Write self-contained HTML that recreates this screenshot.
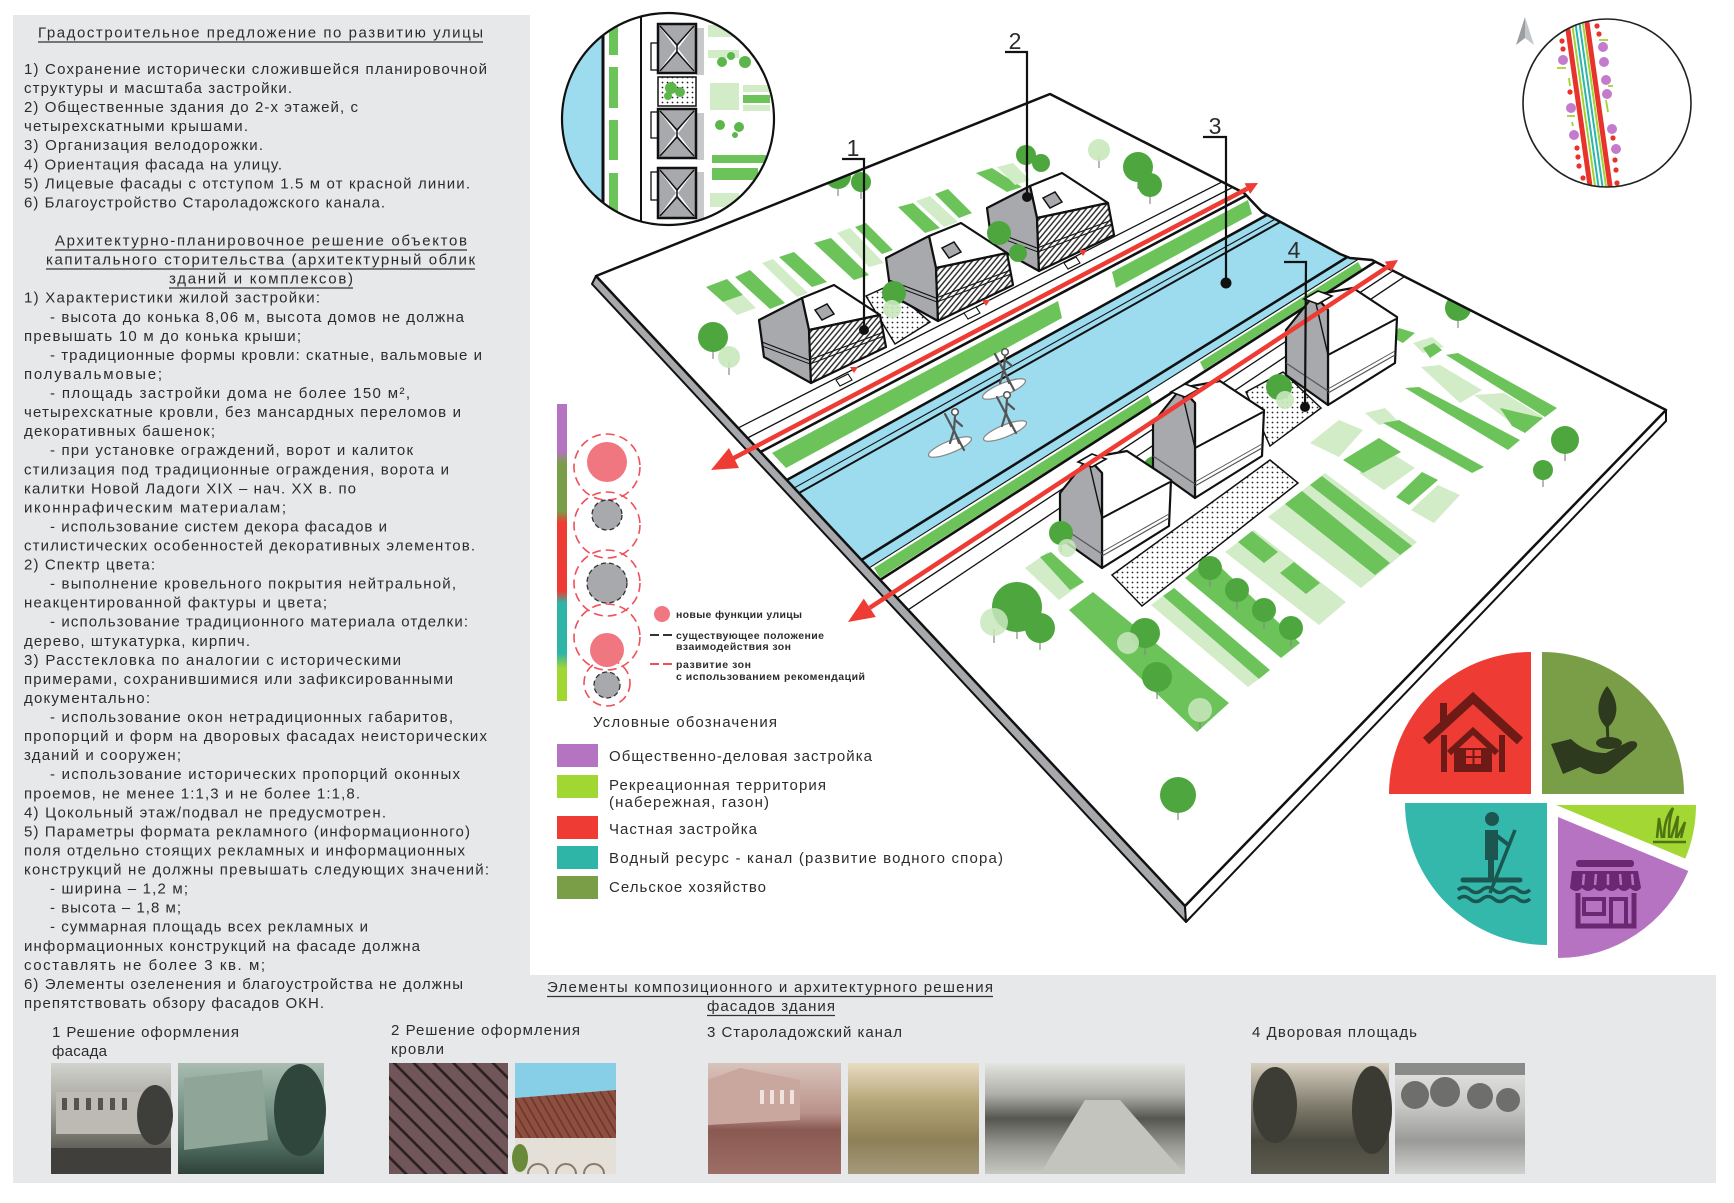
<!DOCTYPE html>
<html><head><meta charset="utf-8">
<style>
html,body{margin:0;padding:0;background:#fff;}
svg{display:block;}
text{font-family:"Liberation Sans","DejaVu Sans",sans-serif;fill:#2c2c2c;}
</style></head><body>
<svg width="1734" height="1203" viewBox="0 0 1734 1203" xmlns="http://www.w3.org/2000/svg">
<defs>
<pattern id="dots" width="5" height="5" patternUnits="userSpaceOnUse"><rect width="5" height="5" fill="#fff"/><circle cx="2.5" cy="2.5" r="0.9" fill="#222"/></pattern>
<pattern id="hatch" width="4.2" height="4.2" patternUnits="userSpaceOnUse" patternTransform="rotate(40)"><rect width="4.2" height="4.2" fill="#fff"/><line x1="1" y1="0" x2="1" y2="4.2" stroke="#222" stroke-width="1.4"/></pattern>
<pattern id="roofp" width="14" height="14" patternUnits="userSpaceOnUse" patternTransform="rotate(-45)"><rect width="14" height="14" fill="#705659"/><line x1="3" y1="0" x2="3" y2="14" stroke="#2a1e20" stroke-width="2.6"/></pattern>
<pattern id="roofp2" width="7" height="7" patternUnits="userSpaceOnUse" patternTransform="rotate(-30)"><rect width="7" height="7" fill="#8d4f40"/><line x1="2" y1="0" x2="2" y2="7" stroke="#6a3528" stroke-width="1.5"/></pattern>
<linearGradient id="bar" x1="0" y1="0" x2="0" y2="1">
<stop offset="0" stop-color="#b574c2"/><stop offset="0.16" stop-color="#b574c2"/><stop offset="0.2" stop-color="#7a9e48"/><stop offset="0.36" stop-color="#7a9e48"/><stop offset="0.40" stop-color="#ee3b33"/><stop offset="0.63" stop-color="#ee3b33"/><stop offset="0.67" stop-color="#2eb5a8"/><stop offset="0.84" stop-color="#2eb5a8"/><stop offset="0.89" stop-color="#a1d733"/><stop offset="1" stop-color="#a1d733"/></linearGradient>
<linearGradient id="g1" x1="0" y1="0" x2="0" y2="1"><stop offset="0" stop-color="#d2d2ce"/><stop offset="0.35" stop-color="#a9a8a1"/><stop offset="0.7" stop-color="#6e6d66"/><stop offset="1" stop-color="#3b3a37"/></linearGradient>
<linearGradient id="g2" x1="0" y1="0" x2="0" y2="1"><stop offset="0" stop-color="#a9bcb2"/><stop offset="0.4" stop-color="#7b978a"/><stop offset="0.75" stop-color="#4f6b5f"/><stop offset="1" stop-color="#2e4239"/></linearGradient>
<linearGradient id="g5" x1="0" y1="0" x2="0" y2="1"><stop offset="0" stop-color="#d8c4bc"/><stop offset="0.45" stop-color="#b9928a"/><stop offset="0.6" stop-color="#8a5a52"/><stop offset="1" stop-color="#9c6e66"/></linearGradient>
<linearGradient id="g6" x1="0" y1="0" x2="0" y2="1"><stop offset="0" stop-color="#e8dcc4"/><stop offset="0.35" stop-color="#b5a676"/><stop offset="0.7" stop-color="#8d8058"/><stop offset="1" stop-color="#a39a7a"/></linearGradient>
<linearGradient id="g7" x1="0" y1="0" x2="0" y2="1"><stop offset="0" stop-color="#e4e4e0"/><stop offset="0.28" stop-color="#b0b0aa"/><stop offset="0.5" stop-color="#55574f"/><stop offset="0.75" stop-color="#9a9a94"/><stop offset="1" stop-color="#c8c8c2"/></linearGradient>
<linearGradient id="g8" x1="0" y1="0" x2="0" y2="1"><stop offset="0" stop-color="#d6cfbf"/><stop offset="0.4" stop-color="#7c786a"/><stop offset="0.7" stop-color="#4a493f"/><stop offset="1" stop-color="#5e5c50"/></linearGradient>
<linearGradient id="g9" x1="0" y1="0" x2="0" y2="1"><stop offset="0" stop-color="#e6e6e4"/><stop offset="0.4" stop-color="#c6c6c4"/><stop offset="0.7" stop-color="#9a9a98"/><stop offset="1" stop-color="#d0d0ce"/></linearGradient>
<clipPath id="slab"><path d="M596,276 L1050,94 L1244,193 L1262,212 L1340,254 L1350,258 L1372,260 L1666,410 L1185,906 Z"/></clipPath>
<clipPath id="c1"><circle cx="668" cy="119" r="106"/></clipPath>
<clipPath id="c2"><circle cx="1607" cy="103" r="84"/></clipPath>
<g id="nh">
<polygon points="43,-22 75,-35 121,-5 50,10" fill="#fff" stroke="#111" stroke-width="2.2" stroke-linejoin="round"/>
<polygon points="56,-10 68,-16 75,-6 63,0" fill="#a7a9ac" stroke="#111" stroke-width="1.5"/>
<polygon points="0,0 43,-22 50,10 52,63 5,37" fill="#a7a9ac" stroke="#111" stroke-width="2.2" stroke-linejoin="round"/>
<polygon points="50,10 121,-5 127,27 52,63" fill="url(#hatch)" stroke="#111" stroke-width="2.2" stroke-linejoin="round"/>
<polyline points="3,22 50,40 125,12" fill="none" stroke="#111" stroke-width="1.2"/>
<polyline points="3,26 51,44 125,16" fill="none" stroke="#111" stroke-width="1"/>
</g>
<g id="sh">
<polygon points="0,0 0,-95 -14,-110 25,-117 69,-88 67,-42" fill="#fff" stroke="#111" stroke-width="2.2" stroke-linejoin="round"/>
<polygon points="-42,-30 -42,-75 -14,-110 0,-95 0,0" fill="#a7a9ac" stroke="#111" stroke-width="2.2" stroke-linejoin="round"/>
<line x1="0" y1="-50" x2="68" y2="-86" stroke="#111" stroke-width="2"/>
<line x1="-14" y1="-110" x2="0" y2="-50" stroke="#111" stroke-width="1.4"/>
<line x1="0" y1="-12" x2="67" y2="-50" stroke="#555" stroke-width="1.2"/>
<line x1="0" y1="-16" x2="67" y2="-54" stroke="#555" stroke-width="1"/>
<line x1="-42" y1="-42" x2="0" y2="-14" stroke="#555" stroke-width="1.2"/>
<polygon points="-24,-106 -10,-114 4,-109 -10,-101" fill="#fff" stroke="#111" stroke-width="1.6"/>
</g>
</defs>

<rect width="1734" height="1203" fill="#fff"/>
<path d="M13,15 H530 V975 H1716 V1183 H13 Z" fill="#e6e8ea"/>

<!-- LEFT TEXT -->
<g font-size="15">
<text x="38" y="37.5" textLength="445" lengthAdjust="spacing">Градостроительное предложение по развитию улицы</text>
<line x1="38" y1="42" x2="483" y2="42" stroke="#333" stroke-width="1.2"/>
<text x="24" y="74" textLength="463" lengthAdjust="spacing">1) Сохранение исторически сложившейся планировочной</text>
<text x="24" y="93.1" textLength="268" lengthAdjust="spacing">структуры и масштаба застройки.</text>
<text x="24" y="112.1" textLength="334" lengthAdjust="spacing">2) Общественные здания до 2-х этажей, с</text>
<text x="24" y="131.2" textLength="224" lengthAdjust="spacing">четырехскатными крышами.</text>
<text x="24" y="150.2" textLength="239" lengthAdjust="spacing">3) Организация велодорожки.</text>
<text x="24" y="169.3" textLength="258" lengthAdjust="spacing">4) Ориентация фасада на улицу.</text>
<text x="24" y="188.4" textLength="446" lengthAdjust="spacing">5) Лицевые фасады с отступом 1.5 м от красной линии.</text>
<text x="24" y="207.4" textLength="361" lengthAdjust="spacing">6) Благоустройство Староладожского канала.</text>
<text x="55" y="245.5" textLength="412" lengthAdjust="spacing">Архитектурно-планировочное решение объектов</text>
<line x1="55" y1="250" x2="467" y2="250" stroke="#333" stroke-width="1.2"/>
<text x="46" y="264.6" textLength="429" lengthAdjust="spacing">капитального сторительства (архитектурный облик</text>
<line x1="46" y1="269" x2="475" y2="269" stroke="#333" stroke-width="1.2"/>
<text x="169" y="283.7" textLength="184" lengthAdjust="spacing">зданий и комплексов)</text>
<line x1="169" y1="288" x2="353" y2="288" stroke="#333" stroke-width="1.2"/>
<text x="24" y="302.7" textLength="296" lengthAdjust="spacing">1) Характеристики жилой застройки:</text>
<text x="50" y="321.8" textLength="414" lengthAdjust="spacing">- высота до конька 8,06 м, высота домов не должна</text>
<text x="24" y="340.8" textLength="277" lengthAdjust="spacing">превышать 10 м до конька крыши;</text>
<text x="50" y="359.8" textLength="432" lengthAdjust="spacing">- традиционные формы кровли: скатные, вальмовые и</text>
<text x="24" y="378.9" textLength="138" lengthAdjust="spacing">полувальмовые;</text>
<text x="50" y="398" textLength="360" lengthAdjust="spacing">- площадь застройки дома не более 150 м²,</text>
<text x="24" y="417.1" textLength="437" lengthAdjust="spacing">четырехскатные кровли, без мансардных переломов и</text>
<text x="24" y="436.1" textLength="191" lengthAdjust="spacing">декоративных башенок;</text>
<text x="50" y="455.2" textLength="363" lengthAdjust="spacing">- при установке ограждений, ворот и калиток</text>
<text x="24" y="474.3" textLength="425" lengthAdjust="spacing">стилизация под традиционные ограждения, ворота и</text>
<text x="24" y="493.3" textLength="332" lengthAdjust="spacing">калитки Новой Ладоги XIX – нач. XX в. по</text>
<text x="24" y="512.4" textLength="262" lengthAdjust="spacing">иконнрафическим материалам;</text>
<text x="50" y="531.4" textLength="337" lengthAdjust="spacing">- использование систем декора фасадов и</text>
<text x="24" y="550.5" textLength="451" lengthAdjust="spacing">стилистических особенностей декоративных элементов.</text>
<text x="24" y="569.6" textLength="131" lengthAdjust="spacing">2) Спектр цвета:</text>
<text x="50" y="588.6" textLength="406" lengthAdjust="spacing">- выполнение кровельного покрытия нейтральной,</text>
<text x="24" y="607.7" textLength="303" lengthAdjust="spacing">неакцентированной фактуры и цвета;</text>
<text x="50" y="626.7" textLength="418" lengthAdjust="spacing">- использование традиционного материала отделки:</text>
<text x="24" y="645.8" textLength="226" lengthAdjust="spacing">дерево, штукатурка, кирпич.</text>
<text x="24" y="664.9" textLength="377" lengthAdjust="spacing">3) Расстекловка  по аналогии с историческими</text>
<text x="24" y="683.9" textLength="429" lengthAdjust="spacing">примерами, сохранившимися или зафиксированными</text>
<text x="24" y="703" textLength="126" lengthAdjust="spacing">документально:</text>
<text x="50" y="722" textLength="403" lengthAdjust="spacing">- использование окон нетрадиционных габаритов,</text>
<text x="24" y="741.1" textLength="463" lengthAdjust="spacing">пропорций и форм на дворовых фасадах неисторических</text>
<text x="24" y="760.2" textLength="157" lengthAdjust="spacing">зданий и сооружен;</text>
<text x="50" y="779.2" textLength="410" lengthAdjust="spacing">- использование исторических пропорций оконных</text>
<text x="24" y="798.3" textLength="336" lengthAdjust="spacing">проемов, не менее 1:1,3 и не более 1:1,8.</text>
<text x="24" y="817.3" textLength="362" lengthAdjust="spacing">4) Цокольный этаж/подвал не предусмотрен.</text>
<text x="24" y="836.4" textLength="446" lengthAdjust="spacing">5) Параметры формата рекламного (информационного)</text>
<text x="24" y="855.5" textLength="441" lengthAdjust="spacing">поля отдельно стоящих рекламных и информационных</text>
<text x="24" y="874.5" textLength="465" lengthAdjust="spacing">конструкций не должны превышать следующих значений:</text>
<text x="50" y="893.6" textLength="138" lengthAdjust="spacing">- ширина – 1,2 м;</text>
<text x="50" y="912.6" textLength="131" lengthAdjust="spacing">- высота – 1,8 м;</text>
<text x="50" y="931.7" textLength="318" lengthAdjust="spacing">- суммарная площадь всех рекламных и</text>
<text x="24" y="950.8" textLength="396" lengthAdjust="spacing">информационных конструкций на фасаде должна</text>
<text x="24" y="969.8" textLength="241" lengthAdjust="spacing">составлять не более 3 кв. м;</text>
<text x="24" y="988.9" textLength="439" lengthAdjust="spacing">6) Элементы озеленения и благоустройства не должны</text>
<text x="24" y="1007.9" textLength="300" lengthAdjust="spacing">препятствовать обзору фасадов ОКН.</text>
</g>

<!-- BOTTOM SECTION -->
<g font-size="15">
<text x="547" y="992" textLength="446" lengthAdjust="spacing">Элементы композиционного и архитектурного решения</text>
<line x1="547" y1="996.5" x2="993" y2="996.5" stroke="#333" stroke-width="1.2"/>
<text x="707" y="1011" textLength="128" lengthAdjust="spacing">фасадов здания</text>
<line x1="707" y1="1015.5" x2="835" y2="1015.5" stroke="#333" stroke-width="1.2"/>
<text x="52" y="1037" textLength="187" lengthAdjust="spacing">1 Решение оформления</text>
<text x="52" y="1056" textLength="55" lengthAdjust="spacing">фасада</text>
<text x="391" y="1035" textLength="189" lengthAdjust="spacing">2 Решение оформления</text>
<text x="391" y="1054" textLength="53" lengthAdjust="spacing">кровли</text>
<text x="707" y="1037" textLength="195" lengthAdjust="spacing">3 Староладожский канал</text>
<text x="1252" y="1037" textLength="165" lengthAdjust="spacing">4 Дворовая площадь</text>
</g>

<!-- PHOTOS -->
<rect x="51" y="1063" width="120" height="111" fill="url(#g1)"/>
<rect x="56" y="1092" width="88" height="42" fill="#bcbab2"/>
<g fill="#55534e"><rect x="62" y="1098" width="5" height="12"/><rect x="74" y="1098" width="5" height="12"/><rect x="86" y="1098" width="5" height="12"/><rect x="98" y="1098" width="5" height="12"/><rect x="110" y="1098" width="5" height="12"/><rect x="122" y="1098" width="5" height="12"/></g>
<ellipse cx="155" cy="1115" rx="18" ry="30" fill="#3e3e3b"/>
<rect x="51" y="1148" width="120" height="26" fill="#403f3b"/>
<rect x="178" y="1063" width="146" height="111" fill="url(#g2)"/>
<polygon points="184,1078 262,1070 268,1140 184,1150" fill="#8fa598"/>
<ellipse cx="300" cy="1110" rx="26" ry="46" fill="#2e463b"/>
<rect x="389" y="1063" width="119" height="111" fill="url(#roofp)"/>
<rect x="515" y="1063" width="101" height="111" fill="#86cfe6"/>
<polygon points="515,1098 616,1090 616,1138 515,1140" fill="url(#roofp2)"/>
<rect x="515" y="1138" width="101" height="36" fill="#e4e0d8"/>
<g fill="none" stroke="#8a7a6a" stroke-width="2"><path d="M528,1174 a10,10 0 0 1 20,0"/><path d="M556,1174 a10,10 0 0 1 20,0"/><path d="M584,1174 a10,10 0 0 1 20,0"/></g>
<ellipse cx="520" cy="1158" rx="8" ry="14" fill="#6a8a3a"/>
<rect x="708" y="1063" width="133" height="111" fill="url(#g5)"/>
<polygon points="708,1080 740,1068 800,1080 800,1120 708,1125" fill="#c9a79e"/>
<g fill="#f0e2dc"><rect x="760" y="1090" width="4" height="14"/><rect x="770" y="1090" width="4" height="14"/><rect x="780" y="1090" width="4" height="14"/><rect x="790" y="1090" width="4" height="14"/></g>
<rect x="848" y="1063" width="131" height="111" fill="url(#g6)"/>
<rect x="985" y="1063" width="200" height="111" fill="url(#g7)"/>
<polygon points="1040,1174 1085,1100 1120,1100 1185,1174" fill="#c4c4be"/>
<rect x="1251" y="1063" width="138" height="111" fill="url(#g8)"/>
<ellipse cx="1275" cy="1105" rx="22" ry="38" fill="#3e3d35"/>
<ellipse cx="1372" cy="1110" rx="20" ry="44" fill="#3c3b33"/>
<rect x="1395" y="1063" width="130" height="111" fill="url(#g9)"/>
<g fill="#6e6e6c"><circle cx="1415" cy="1095" r="14"/><circle cx="1445" cy="1092" r="15"/><circle cx="1480" cy="1096" r="13"/><circle cx="1508" cy="1100" r="12"/></g>
<rect x="1395" y="1063" width="130" height="12" fill="#8a8a88"/>

<!-- LEGEND -->
<rect x="557" y="404" width="10" height="297" fill="url(#bar)"/>
<g fill="none" stroke="#f0505a" stroke-width="1.6" stroke-dasharray="9,5">
<circle cx="607" cy="467" r="33"/><circle cx="607" cy="525" r="33"/><circle cx="607" cy="583" r="33"/><circle cx="607" cy="637" r="33"/><circle cx="607" cy="683" r="23"/>
</g>
<circle cx="607" cy="462" r="20" fill="#f07680"/>
<circle cx="607" cy="515" r="15" fill="#a7a9ac" stroke="#333" stroke-width="1.3" stroke-dasharray="5,3"/>
<circle cx="607" cy="583" r="20" fill="#a7a9ac" stroke="#333" stroke-width="1.3" stroke-dasharray="5,3"/>
<circle cx="607" cy="650" r="17" fill="#f07680"/>
<circle cx="607" cy="685" r="13" fill="#a7a9ac" stroke="#333" stroke-width="1.3" stroke-dasharray="5,3"/>
<circle cx="662" cy="614" r="8" fill="#f07680"/>
<line x1="650" y1="635" x2="673" y2="635" stroke="#333" stroke-width="2" stroke-dasharray="9,4"/>
<line x1="650" y1="664" x2="673" y2="664" stroke="#f05050" stroke-width="2" stroke-dasharray="9,4"/>
<g font-size="10.5" font-weight="bold">
<text x="676" y="618" textLength="126" lengthAdjust="spacing" fill="#444">новые функции улицы</text>
<text x="676" y="639" textLength="148" lengthAdjust="spacing" fill="#444">существующее положение</text>
<text x="676" y="650" textLength="115" lengthAdjust="spacing" fill="#444">взаимодействия зон</text>
<text x="676" y="668" textLength="75" lengthAdjust="spacing" fill="#444">развитие зон</text>
<text x="676" y="680" textLength="189" lengthAdjust="spacing" fill="#444">с использованием рекомендаций</text>
</g>
<g font-size="15">
<text x="593" y="727" textLength="184" lengthAdjust="spacing">Условные обозначения</text>
<rect x="557" y="744" width="41" height="23" fill="#b574c2"/>
<text x="609" y="761" textLength="263" lengthAdjust="spacing">Общественно-деловая застройка</text>
<rect x="557" y="775" width="41" height="23" fill="#a1d733"/>
<text x="609" y="790" textLength="217" lengthAdjust="spacing">Рекреационная территория</text>
<text x="609" y="807" textLength="160" lengthAdjust="spacing">(набережная, газон)</text>
<rect x="557" y="816" width="41" height="23" fill="#ee3b33"/>
<text x="609" y="834" textLength="148" lengthAdjust="spacing">Частная застройка</text>
<rect x="557" y="846" width="41" height="23" fill="#2eb5a8"/>
<text x="609" y="863" textLength="394" lengthAdjust="spacing">Водный ресурс - канал (развитие водного спора)</text>
<rect x="557" y="876" width="41" height="23" fill="#7a9e48"/>
<text x="609" y="892" textLength="157" lengthAdjust="spacing">Сельское хозяйство</text>
</g>

<!-- SLAB SIDES -->
<polygon points="596,276 1185,906 1186,922 592,284" fill="#a6a8ab" stroke="#111" stroke-width="2" stroke-linejoin="round"/>
<polygon points="1185,906 1666,410 1666,421 1186,922" fill="#fff" stroke="#111" stroke-width="2" stroke-linejoin="round"/>

<!-- SLAB TOP CONTENT -->
<g clip-path="url(#slab)">
<rect x="580" y="80" width="1100" height="850" fill="#fff"/>
<g fill="#6cc35a">
<polygon points="706,287 727,279 743,295 723,302"/>
<polygon points="735,277 750,270 785,303 770,309"/>
<polygon points="779,257 794,252 827,282 812,287"/>
<polygon points="814,243 831,238 869,275 854,280"/>
<polygon points="855,227 866,223 893,250 882,254"/>
<polygon points="898,207 913,203 940,228 925,233"/>
<polygon points="935,194 948,189 972,213 959,218"/>
<polygon points="976,173 992,168 1022,187 1007,192"/>
</g>
<g fill="#d1ecc6">
<polygon points="723,302 743,295 756,308 737,315"/>
<polygon points="762,263 773,259 808,293 797,297"/>
<polygon points="837,233 850,228 884,263 869,267"/>
<polygon points="916,201 930,196 958,222 944,227"/>
<polygon points="997,167 1013,163 1030,180 1015,185"/>
</g>
<polygon points="866,296 888,286 930,322 895,344" fill="url(#dots)" stroke="#111" stroke-width="1.5"/>

<polygon points="756.7,496.6 1700,-24.1 1700,43.6 839,586.9" fill="#9ddcef"/>
<polygon points="772,453 1058,301 1062,318 786,468" fill="#6cc35a"/>
<polygon points="1112,272 1248,200 1252,214 1116,288" fill="#6cc35a"/>
<polygon points="874,568 1148,395 1152,404 880,578" fill="#6cc35a"/>
<polygon points="1200,362 1358,262 1362,269 1204,370" fill="#6cc35a"/>
<g stroke="#111" fill="none">
<line x1="708" y1="443.3" x2="1700" y2="-61.2" stroke-width="1.3"/>
<line x1="717.5" y1="453.5" x2="1700" y2="-54.2" stroke-width="1.3"/>
<line x1="730.5" y1="467.8" x2="1700" y2="-44.3" stroke-width="2.6"/>
<line x1="756.7" y1="496.6" x2="1700" y2="-24.1" stroke-width="2.6"/>
<line x1="764" y1="504.8" x2="1700" y2="-18.3" stroke-width="1.1"/>
<line x1="769" y1="509.9" x2="1700" y2="-14.4" stroke-width="2"/>
<line x1="831.5" y1="578.7" x2="1700" y2="37.1" stroke-width="2.6"/>
<line x1="839" y1="586.9" x2="1700" y2="43.6" stroke-width="1.1"/>
<line x1="850" y1="599.3" x2="1700" y2="53.2" stroke-width="2.6"/>
<line x1="867" y1="617.8" x2="1700" y2="68.2" stroke-width="1.3"/>
<line x1="878" y1="630.1" x2="1700" y2="78.2" stroke-width="1.3"/>
</g>
<!-- house steps -->
<g fill="#fff" stroke="#111" stroke-width="1.1">
<polygon points="836,380 848,374 852,380 840,386"/>
<polygon points="964,313 976,307 980,313 968,319"/>
<polygon points="1064,263 1076,257 1080,263 1068,269"/>
</g>

<g fill="#d1ecc6">
<polygon points="1025,568 1048,552 1084,582 1059,600"/>
<polygon points="1151,605 1163,596 1259,679 1248,687"/>
<polygon points="1225,552 1254,530 1346,602 1319,625"/>
<polygon points="1268,517 1325,473 1417,542 1361,588"/>
<polygon points="1413,343 1432,337 1444,347 1423,353"/>
<polygon points="1421,367 1440,365 1482,390 1460,403"/>
<polygon points="1474,395 1504,393 1543,417 1525,433"/>
<polygon points="1365,413 1385,408 1397,420 1379,425"/>
<polygon points="1310,443 1339,420 1363,430 1339,457"/>
<polygon points="1359,473 1390,452 1415,468 1384,490"/>
<polygon points="1411,510 1438,485 1460,495 1434,523"/>
</g>
<g fill="#6cc35a">
<polygon points="1040,557 1051,552 1084,582 1070,590"/>
<polygon points="1069,610 1093,592 1229,703 1197,732"/>
<polygon points="1163,596 1174,588 1270,670 1259,679"/>
<polygon points="1185,578 1210,557 1300,643 1281,658"/>
<polygon points="1238,542 1252,531 1278,552 1264,563"/>
<polygon points="1280,573 1294,562 1320,583 1306,594"/>
<polygon points="1285,504 1302,491 1390,563 1375,575"/>
<polygon points="1310,485 1322,476 1412,546 1400,555"/>
<polygon points="1399,328 1415,333 1403,343 1391,337"/>
<polygon points="1423,348 1434,343 1442,350 1430,358"/>
<polygon points="1446,355 1458,353 1557,408 1545,417"/>
<polygon points="1405,388 1419,387 1520,440 1508,450"/>
<polygon points="1500,408 1543,418 1525,433 1512,426"/>
<polygon points="1343,460 1379,438 1401,452 1363,473"/>
<polygon points="1383,423 1399,420 1484,467 1472,473"/>
<polygon points="1396,497 1422,472 1438,480 1409,505"/>
</g>
<polygon points="1112,575 1270,460 1298,483 1142,606" fill="url(#dots)" stroke="#111" stroke-width="1.5"/>
<polygon points="1246,392 1283,372 1321,408 1270,446" fill="url(#dots)" stroke="#111" stroke-width="1.5"/>

<g stroke="#888" stroke-width="1.2">
<line x1="838" y1="182" x2="838" y2="196"/><line x1="861" y1="187" x2="861" y2="199"/><line x1="713" y1="344" x2="713" y2="359"/><line x1="729" y1="362" x2="729" y2="375"/><line x1="1026" y1="160" x2="1026" y2="172"/><line x1="1099" y1="155" x2="1099" y2="168"/><line x1="1138" y1="174" x2="1138" y2="189"/><line x1="1150" y1="191" x2="1150" y2="204"/>
</g>
<g fill="#4ea73e">
<circle cx="838" cy="176" r="13"/><circle cx="861" cy="182" r="10"/><circle cx="713" cy="337" r="15"/><circle cx="1026" cy="155" r="10"/><circle cx="1041" cy="163" r="9"/><circle cx="1138" cy="167" r="15"/><circle cx="1150" cy="185" r="12"/>
</g>
<g fill="#c9e8bd" opacity="0.9"><circle cx="729" cy="357" r="11"/><circle cx="1099" cy="150" r="11"/></g>

<use href="#nh" transform="translate(987,208)"/>
<use href="#nh" transform="translate(886,258)"/>
<use href="#nh" transform="translate(759,320)"/>
<g fill="#4ea73e"><circle cx="894" cy="293" r="12"/><circle cx="999" cy="233" r="12"/><circle cx="1018" cy="253" r="9"/></g>
<circle cx="892" cy="309" r="9" fill="#c9e8bd" opacity="0.9"/>
<g fill="#ee3b33"><polygon points="850,367 858,367 854,373"/><polygon points="982,300 990,300 986,306"/><polygon points="1079,250 1087,250 1083,256"/></g>

<g fill="#4ea73e"><circle cx="1155" cy="468" r="12"/><circle cx="1160" cy="480" r="9"/><circle cx="1279" cy="387" r="13"/></g>
<circle cx="1285" cy="400" r="9" fill="#c9e8bd" opacity="0.9"/>
<use href="#sh" transform="translate(1328,405)"/>
<use href="#sh" transform="translate(1195,498)"/>
<use href="#sh" transform="translate(1102,568)"/>
<g stroke="#888" stroke-width="1.2">
<line x1="1017" y1="620" x2="1017" y2="639"/><line x1="1040" y1="636" x2="1040" y2="650"/><line x1="994" y1="629" x2="994" y2="643"/><line x1="1210" y1="574" x2="1210" y2="587"/><line x1="1237" y1="596" x2="1237" y2="609"/><line x1="1264" y1="616" x2="1264" y2="629"/><line x1="1291" y1="634" x2="1291" y2="647"/><line x1="1145" y1="641" x2="1145" y2="655"/><line x1="1157" y1="685" x2="1157" y2="699"/><line x1="1178" y1="804" x2="1178" y2="820"/><line x1="1458" y1="315" x2="1458" y2="328"/><line x1="1565" y1="447" x2="1565" y2="461"/><line x1="1543" y1="475" x2="1543" y2="487"/><line x1="1061" y1="539" x2="1061" y2="552"/><line x1="1200" y1="716" x2="1200" y2="729"/>
</g>
<g fill="#4ea73e">
<circle cx="1017" cy="607" r="25"/><circle cx="1040" cy="628" r="15"/><circle cx="1061" cy="533" r="12"/><circle cx="1210" cy="568" r="12"/><circle cx="1237" cy="590" r="12"/><circle cx="1264" cy="610" r="12"/><circle cx="1291" cy="628" r="12"/><circle cx="1145" cy="633" r="15"/><circle cx="1157" cy="677" r="15"/><circle cx="1178" cy="795" r="18"/><circle cx="1458" cy="308" r="13"/><circle cx="1565" cy="440" r="14"/><circle cx="1543" cy="470" r="10"/>
</g>
<g fill="#c9e8bd" opacity="0.85"><circle cx="994" cy="622" r="14"/><circle cx="1067" cy="548" r="9"/><circle cx="1128" cy="643" r="11"/><circle cx="1200" cy="710" r="12"/></g>
</g>

<path d="M596,276 L1050,94 L1244,193 L1262,212 L1340,254 L1350,258 L1372,260 L1666,410 L1185,906 Z" fill="none" stroke="#111" stroke-width="2.5" stroke-linejoin="round"/>

<g>
<ellipse cx="1004" cy="389" rx="23" ry="6" transform="rotate(-22 1004 389)" fill="#fff" stroke="#888" stroke-width="1.3"/>
<ellipse cx="1005" cy="431" rx="23" ry="6" transform="rotate(-22 1005 431)" fill="#fff" stroke="#888" stroke-width="1.3"/>
<ellipse cx="950" cy="447" rx="23" ry="6" transform="rotate(-22 950 447)" fill="#fff" stroke="#888" stroke-width="1.3"/>
<g stroke="#555" stroke-width="2.2" fill="none" stroke-linecap="round">
<path d="M1005,356 L1004,370 L1000,383 M1004,370 L1009,383 M1005,360 L1012,366 M995,354 L1014,390"/>
<path d="M1007,399 L1006,413 L1002,426 M1006,413 L1011,426 M1007,403 L1014,409 M997,397 L1016,433"/>
<path d="M955,416 L954,430 L950,443 M954,430 L959,443 M955,420 L962,426 M945,414 L964,450"/>
</g>
<g fill="#fff" stroke="#555" stroke-width="1.5"><circle cx="1005" cy="352" r="3.3"/><circle cx="1007" cy="395" r="3.3"/><circle cx="955" cy="412" r="3.3"/></g>
</g>

<g fill="#ee3b33">
<line x1="732" y1="459" x2="1247.4" y2="188.6" stroke="#ee3b33" stroke-width="4.5"/>
<polygon points="711,470 739,468 729,448"/>
<polygon points="1258,183 1250.2,193.9 1244.6,183.3"/>
<line x1="869.8" y1="607.8" x2="1388" y2="266.6" stroke="#ee3b33" stroke-width="4.5"/>
<polygon points="848,622 875.8,617 863.8,598.6"/>
<polygon points="1398,260 1391.3,271.6 1384.7,261.6"/>
</g>

<g fill="none" stroke="#111" stroke-width="2.2">
<polyline points="842,159 864,159 864,330"/>
<polyline points="1005,52 1027,52 1027,197"/>
<polyline points="1203,137 1226,137 1226,283"/>
<polyline points="1284,262 1306,262 1305,407"/>
</g>
<g fill="#111"><circle cx="864" cy="330" r="5"/><circle cx="1027" cy="197" r="5"/><circle cx="1226" cy="283" r="5.5"/><circle cx="1305" cy="407" r="5"/></g>
<g font-size="23" text-anchor="middle">
<text x="853" y="156" fill="#111">1</text>
<text x="1015" y="49" fill="#111">2</text>
<text x="1215" y="134" fill="#111">3</text>
<text x="1294" y="258" fill="#111">4</text>
</g>

<g clip-path="url(#c1)">
<rect x="560" y="10" width="220" height="220" fill="#fff"/>
<rect x="555" y="10" width="48" height="220" fill="#9ddcef"/>
<line x1="603" y1="10" x2="603" y2="230" stroke="#111" stroke-width="3"/>
<g fill="#6cc35a"><rect x="609" y="27" width="9" height="28"/><rect x="609" y="67" width="9" height="41"/><rect x="609" y="120" width="9" height="40"/><rect x="609" y="173" width="9" height="40"/></g>
<line x1="641" y1="10" x2="641" y2="230" stroke="#111" stroke-width="2"/>
<g fill="#fff" stroke="#111" stroke-width="1.3"><rect x="651" y="43" width="7" height="27"/><rect x="651" y="112" width="7" height="26"/><rect x="651" y="172" width="7" height="28"/></g>
<g fill="#c8c9cb"><rect x="696" y="28" width="8" height="47"/><rect x="696" y="113" width="8" height="47"/><rect x="696" y="172" width="8" height="47"/></g>
<g fill="#a7a9ac" stroke="#111" stroke-width="2.5"><rect x="658" y="24" width="38" height="49"/><rect x="658" y="109" width="38" height="49"/><rect x="658" y="168" width="38" height="50"/></g>
<g stroke="#fff" stroke-width="1.5"><path d="M660,26 L694,71 M694,26 L660,71 M660,111 L694,156 M694,111 L660,156 M660,170 L694,216 M694,170 L660,216"/></g>
<g fill="none" stroke="#111" stroke-width="1.5"><path d="M660,26 L677,45 L694,26 M660,71 L677,52 L694,71 M677,45 V52 M660,111 L677,130 L694,111 M660,156 L677,137 L694,156 M677,130 V137 M660,170 L677,190 L694,170 M660,216 L677,197 L694,216 M677,190 V197"/></g>
<rect x="658" y="77" width="38" height="29" fill="url(#dots)" stroke="#111" stroke-width="1.5"/>
<g fill="#5db64c"><circle cx="671" cy="88" r="6"/><circle cx="680" cy="92" r="5"/><circle cx="668" cy="96" r="4"/></g>
<g fill="#d1ecc6"><rect x="708" y="25" width="62" height="12"/><rect x="708" y="50" width="31" height="8"/><rect x="710" y="83" width="29" height="27"/><rect x="743" y="85" width="27" height="7"/><rect x="743" y="105" width="27" height="6"/><rect x="710" y="193" width="29" height="14"/></g>
<g fill="#6cc35a"><rect x="743" y="95" width="27" height="8"/><rect x="712" y="155" width="54" height="8"/><rect x="712" y="168" width="46" height="12"/></g>
<g fill="#5db64c"><circle cx="722" cy="62" r="5"/><circle cx="731" cy="56" r="4"/><circle cx="745" cy="62" r="6"/><circle cx="720" cy="125" r="5"/><circle cx="739" cy="127" r="5"/><circle cx="735" cy="135" r="3"/></g>
</g>
<circle cx="668" cy="119" r="106" fill="none" stroke="#111" stroke-width="2.2"/>

<polygon points="1525,17 1516,45 1525,38" fill="#9a9ea1"/>
<polygon points="1525,17 1534,45 1525,38" fill="#c4c7c9"/>

<g clip-path="url(#c2)">
<g fill="none" stroke-width="5" stroke="#e8322c">
<line x1="1566.6" y1="20" x2="1590.6" y2="190"/>
<line x1="1586.6" y1="20" x2="1610.6" y2="190"/>
</g>
<g fill="none" stroke-width="2">
<line x1="1571.6" y1="20" x2="1595.6" y2="190" stroke="#9fd32f"/>
<line x1="1575" y1="20" x2="1599" y2="190" stroke="#2bb5ad"/>
<line x1="1579" y1="20" x2="1603" y2="190" stroke="#2bb5ad"/>
<line x1="1582.5" y1="20" x2="1606.5" y2="190" stroke="#9fd32f"/>
</g>
<g fill="#e8322c">
<circle cx="1562" cy="41" r="2.6"/><circle cx="1563" cy="49" r="2.6"/><circle cx="1570" cy="92" r="2.6"/><circle cx="1577" cy="148" r="2.6"/><circle cx="1578" cy="157" r="2.6"/><circle cx="1579" cy="166" r="2.6"/><circle cx="1583" cy="178" r="2.6"/>
<circle cx="1597" cy="26" r="2.6"/><circle cx="1599" cy="34" r="2.6"/><circle cx="1613" cy="138" r="2.6"/><circle cx="1615" cy="160" r="2.6"/><circle cx="1616" cy="170" r="2.6"/><circle cx="1617" cy="183" r="2.6"/>
</g>
<g fill="#c37bcb">
<circle cx="1603" cy="47" r="5"/><circle cx="1604" cy="62" r="5"/><circle cx="1606" cy="80" r="5"/><circle cx="1607" cy="94" r="5"/><circle cx="1563" cy="60" r="5"/><circle cx="1571" cy="108" r="5"/><circle cx="1574" cy="135" r="5"/><circle cx="1612" cy="129" r="5"/><circle cx="1616" cy="149" r="5"/>
</g>
<g stroke="#9fd32f" stroke-width="1.8">
<line x1="1557" y1="68" x2="1566" y2="68"/><line x1="1569" y1="78" x2="1570" y2="86"/><line x1="1567" y1="116" x2="1575" y2="116"/><line x1="1599" y1="40" x2="1608" y2="40"/><line x1="1608" y1="86" x2="1613" y2="86"/><line x1="1606" y1="100" x2="1608" y2="112"/><line x1="1572" y1="122" x2="1573" y2="126"/></g>
</g>
<circle cx="1607" cy="103" r="84" fill="none" stroke="#222" stroke-width="1.6"/>

<path d="M1531,794 L1389,794 A142,142 0 0 1 1531,652 Z" fill="#ee3b33"/>
<path d="M1542,794 L1542,652 A142,142 0 0 1 1684,794 Z" fill="#7a9e48"/>
<path d="M1547,803 L1547,945 A142,142 0 0 1 1405,803 Z" fill="#35b8ac"/>
<path d="M1556,805 L1696,805 A140,140 0 0 1 1685.3,858.6 Z" fill="#a3d734"/>
<path d="M1558,817 L1688.3,871 A141,141 0 0 1 1558,958 Z" fill="#b673c1"/>
<g fill="#6e1a16" stroke="#6e1a16">
<path d="M1426,741 L1473,698 L1520,741" fill="none" stroke-width="9"/>
<rect x="1440" y="703" width="7" height="20" stroke="none"/>
<path d="M1444,735 V772 M1502,735 V772" stroke-width="6" fill="none"/>
<path d="M1449,753 L1473,731 L1497,753" fill="none" stroke-width="6"/>
<rect x="1454" y="748" width="38" height="24" stroke="none"/>
</g>
<rect x="1466" y="750" width="15" height="14" fill="#ee3b33"/>
<path d="M1473.5,750 V764 M1466,757 H1481" stroke="#6e1a16" stroke-width="2"/>
<g fill="#2d3a1e">
<path d="M1607,728 C1595,718 1596,700 1607,686 C1619,700 1620,718 1607,728 Z"/>
<line x1="1607" y1="720" x2="1608" y2="742" stroke="#2d3a1e" stroke-width="3"/>
<ellipse cx="1609" cy="743" rx="13" ry="6"/>
<path d="M1551,744 L1571,739 C1580,748 1592,753 1606,753 L1628,742 C1636,739 1640,744 1635,749 L1610,770 C1604,775 1596,775 1590,772 L1580,767 L1563,774 Z"/>
</g>
<g fill="#1c5651" stroke="#1c5651">
<circle cx="1492" cy="819" r="7" stroke="none"/>
<path d="M1485,830 h13 v30 h-4 v18 h-6 v-18 h-3 z" stroke="none"/>
<line x1="1515" y1="830" x2="1490" y2="893" stroke-width="3.5"/>
<line x1="1497" y1="836" x2="1510" y2="846" stroke-width="4"/>
<line x1="1463" y1="880" x2="1520" y2="880" stroke-width="5" stroke-linecap="round"/>
<path d="M1458,890 q6,-5 12,0 t12,0 t12,0 t12,0 t12,0 t12,0" fill="none" stroke-width="3.5"/>
<path d="M1458,899 q6,-5 12,0 t12,0 t12,0 t12,0 t12,0 t12,0" fill="none" stroke-width="3.5"/>
</g>
<g fill="none" stroke="#4f7413" stroke-width="2.5">
<path d="M1657,838 L1659,818 L1662,838 M1664,838 C1664,826 1667,815 1673,808 C1669,818 1669,828 1669,838 M1671,838 L1678,816 L1676,838 M1677,838 L1685,822 L1681,838"/>
<line x1="1653" y1="842" x2="1686" y2="842"/>
</g>
<g fill="#6b2772" stroke="#6b2772">
<rect x="1576" y="860" width="58" height="7" rx="3" stroke="none"/>
<path d="M1572,871 H1638 L1641,888 Q1636,894 1630,888 Q1624,894 1618,888 Q1612,894 1606,888 Q1600,894 1594,888 Q1588,894 1582,888 Q1576,894 1570,888 Z" stroke="none"/>
<path d="M1578,893 V926 H1634 V893" fill="none" stroke-width="5"/>
<rect x="1584" y="899" width="20" height="15" fill="none" stroke-width="4"/>
<rect x="1611" y="899" width="15" height="27" fill="none" stroke-width="4"/>
</g>
<g stroke="#b673c1" stroke-width="2.5"><line x1="1584" y1="874" x2="1583" y2="885"/><line x1="1596" y1="874" x2="1595" y2="885"/><line x1="1608" y1="874" x2="1608" y2="885"/><line x1="1620" y1="874" x2="1621" y2="885"/><line x1="1632" y1="874" x2="1633" y2="885"/></g>
</svg>
</body></html>
